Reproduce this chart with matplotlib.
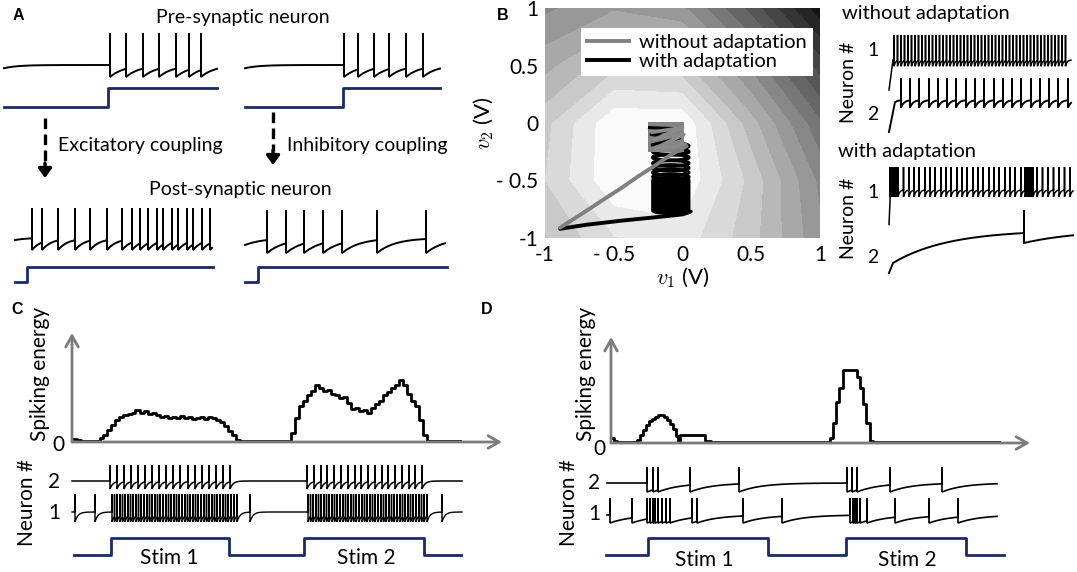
import numpy as np
import matplotlib
matplotlib.use("Agg")
import matplotlib.pyplot as plt
from matplotlib.lines import Line2D
from matplotlib.patches import Ellipse

W, H = 1077, 572
plt.rcParams["font.family"] = ["Lato", "DejaVu Sans"]
plt.rcParams["mathtext.fontset"] = "cm"

NAVY = "#1b2a6b"
AXGRAY = "#7b7b7b"
FS = 13
FS_A = 14
FS_B = 15
FS_CD = 15

# ---- panel A: spike times (time units ~ px from each trace start) ----
PRE_EXC_SPIKES = [106, 122, 139, 155, 172, 185, 197]
PRE_INH_SPIKES = [99, 113, 129, 144, 161, 178]
POST_EXC_SPIKES = [17, 27, 43, 60, 75, 92, 107, 117, 125, 133, 142, 148, 157, 163,
                   172, 178, 187, 195]
POST_INH_SPIKES = [22, 41, 59, 78, 97, 132, 181]
PRE_EXC_STEP = [0, 104, 213]
PRE_INH_STEP = [0, 98, 195]
POST_EXC_STEP = [0, 12, 198]
POST_INH_STEP = [0, 13, 202]
STEP_LEVELS = [0, 1, 1]

# ---- panel B: energy landscape (rows v2 = -1 .. 1, cols v1 = -1 .. 1) ----
GRID_V = [-1, -0.5, 0, 0.5, 1]
ENERGY_GRID = [
    [0.25, 0.12, 0.08, 0.22, 0.42],
    [0.18, 0.00, 0.00, 0.20, 0.45],
    [0.20, 0.00, 0.00, 0.28, 0.55],
    [0.33, 0.20, 0.22, 0.45, 0.72],
    [0.45, 0.38, 0.42, 0.65, 0.92],
]
TRAJ_GRAY_V1 = [-0.89, -0.72, -0.58, -0.45, -0.33, -0.2, -0.09, 0.0, 0.03]
TRAJ_GRAY_V2 = [-0.91, -0.78, -0.67, -0.57, -0.47, -0.37, -0.28, -0.22, -0.2]
TRAJ_BLACK_V1 = [-0.89, -0.7, -0.45, -0.2, 0.0, 0.06]
TRAJ_BLACK_V2 = [-0.92, -0.885, -0.85, -0.82, -0.795, -0.77]
COIL_V2 = [-0.76, -0.74, -0.72, -0.70, -0.68, -0.66, -0.64, -0.62, -0.60, -0.58,
           -0.56, -0.54, -0.52, -0.50, -0.47, -0.43, -0.39, -0.35, -0.30, -0.25, -0.2]
BOX_V1 = [-0.25, 0.01, 0.01, -0.25]
BOX_V2 = [0.01, 0.01, -0.25, -0.25]
ZIG_BLACK_V1 = [-0.24, -0.04, -0.23, -0.02, -0.22]
ZIG_BLACK_V2 = [-0.04, -0.05, -0.1, -0.13, -0.19]
ZIG_GRAY_V1 = [-0.22, 0.0, -0.2, 0.01, -0.2, 0.02]
ZIG_GRAY_V2 = [-0.08, -0.04, -0.14, -0.1, -0.22, -0.19]

N1_FREE_SPIKES = [5, 8.5, 12, 15.5, 19, 22.5, 26, 29.5, 33, 36.5, 40, 43.5, 47, 50.5, 54,
                  57.5, 61, 64.5, 68, 71.5, 75, 78.5, 82, 85.5, 89, 92.5, 96, 99.5, 103,
                  106.5, 110, 113.5, 117, 120.5, 124, 127.5, 131, 134.5, 138, 141.5, 145,
                  148.5, 152, 155.5, 159, 162.5, 166, 169.5, 173, 176.5]
N2_FREE_SPIKES = [12, 21, 30, 40, 49, 58, 67, 77, 86, 95, 105, 114, 123, 132, 142, 151,
                  160, 169, 179]
N1_ADAPT_SPIKES = [1, 2, 3, 4, 5, 6, 7, 9, 14.5, 20, 25, 30, 36, 41, 46, 52, 57, 62, 68,
                   73, 78, 84, 89, 94, 100, 105, 110, 116, 121, 126, 132, 136, 137, 138.5,
                   140, 141, 142.5, 144, 148, 153.5, 159, 164.5, 170, 175.5, 181]
N2_ADAPT_SPIKES = [135]

# ---- panel C ----
C_ENERGY_T = [0, 5, 9, 24, 28, 31, 35, 39, 43, 47, 51, 56, 60, 63, 68, 72, 76, 80, 84, 88,
              92, 96, 100, 104, 108, 112, 116, 120, 124, 128, 132, 136, 140, 144, 148, 152,
              156, 160, 164, 168, 219, 223, 227, 231, 235, 239, 243, 247, 251, 255, 259,
              263, 267, 271, 275, 279, 283, 287, 291, 295, 299, 303, 307, 311, 315, 319,
              323, 327, 331, 335, 339, 343, 347, 351, 355, 359, 388]
C_ENERGY_V = [3, 1.5, 0.5, 1, 3.5, 6, 11, 16, 20, 23, 25, 26, 27, 29, 27, 28, 26, 27, 25,
              23, 24, 22, 23, 22, 24, 22, 23, 21, 22, 23, 21, 23, 22, 20, 18, 15, 10, 6, 2,
              0.5, 8, 22, 33, 38, 43, 47, 52, 50, 47, 48, 44, 43, 40, 41, 36, 30, 31, 28,
              29, 27, 31, 35, 38, 43, 46, 50, 52, 57, 52, 44, 38, 33, 20, 6, 1, 0.5, 0.5]
C_N2_SPIKES = [38, 45, 52, 59, 66, 73, 80, 87, 94, 101, 108, 116, 123, 130, 137, 144, 151,
               158, 235, 242, 249, 255, 262, 269, 276, 283, 289, 296, 303, 310, 316, 323,
               330, 337, 343, 350]
C_N1_SPIKES = [3, 23,
               40, 42.5, 45, 48, 50.5, 53, 56, 58.5, 61, 64, 66.5, 69, 72, 75, 77.5, 80, 83,
               85.5, 88, 91, 94, 96.5, 99, 102, 104.5, 107, 110, 113, 115.5, 118, 121, 123.5,
               126, 129, 132, 134.5, 137, 140, 142.5, 145, 148, 151, 153.5, 156, 159, 162,
               165, 178,
               236, 238.5, 241, 244, 246.5, 249, 252, 254.5, 257, 260, 262.5, 265, 268, 271,
               273.5, 276, 279, 281.5, 284, 287, 290, 292.5, 295, 298, 300.5, 303, 306, 309,
               311.5, 314, 317, 319.5, 322, 325, 328, 330.5, 333, 336, 338.5, 341, 344, 347,
               349.5, 352, 355, 370]
C_STIM_T = [1.5, 39, 157, 232, 352, 389]
STIM_LEVELS = [0, 1, 0, 1, 0, 0]

# ---- panel D ----
D_ENERGY_T = [0, 3, 6, 26, 29, 32, 35, 38, 41, 44, 47, 53, 56, 59, 62, 65, 67, 69, 94, 100,
              117, 143, 219, 222, 225, 228, 232, 246, 249, 252, 255, 259, 262, 322, 350, 388]
D_ENERGY_V = [5, 1.5, 1, 3, 8, 12.5, 17, 21, 23, 25, 26.5, 25, 22, 18, 13, 7, 1.5, 8, 1.5,
              0.7, 1, 0.5, 5, 19, 39, 52, 69, 62, 52, 37, 19, 1.5, 0.5, 1, 0.5, 0.5]
D_N2_SPIKES = [40, 46, 51, 83, 132, 240, 245, 250, 283, 335]
D_N1_SPIKES = [3, 25, 40, 43, 46, 48, 51, 55, 59, 63, 85, 90, 136, 175, 243, 246, 248,
               250, 253, 260, 288, 322, 351]
D_STIM_T = [-1, 41, 161, 239, 359, 397]

fig = plt.figure(figsize=(W / 100, H / 100), dpi=100)


def px_axes(x0, y0, x1, y1):
    ax = fig.add_axes([x0 / W, 1 - y1 / H, (x1 - x0) / W, (y1 - y0) / H])
    ax.set_facecolor("none")
    return ax


def text_px(x, y, s, **kw):
    kw.setdefault("fontsize", FS)
    kw.setdefault("va", "center")
    fig.text(x / W, 1 - y / H, s, **kw)


def panel_label(x, y, s):
    text_px(x, y, s, fontsize=11.5, fontweight="bold", family="Liberation Sans", ha="center")


def track(x0, tmin, tmax, y_top, y_bot):
    ax = px_axes(x0 + tmin, y_top, x0 + tmax, y_bot)
    ax.set_xlim(tmin, tmax)
    ax.set_ylim(0, 1)
    ax.axis("off")
    return ax


def trace_path(spikes, t1, tau, reset, v0=0.0, onset=None):
    ts, vs = [], []
    t_prev, v_prev = 0.0, v0
    if onset is not None:
        ts.append(0.0)
        vs.append(onset[1])
        t_prev = onset[0]
    for s in list(spikes) + [t1]:
        seg = np.linspace(t_prev, s, max(int((s - t_prev) * 2) + 2, 2))
        ts.extend(seg)
        vs.extend(v_prev * np.exp(-(seg - t_prev) / tau))
        if s >= t1:
            break
        ts += [s, s]
        vs += [1.0, reset]
        t_prev, v_prev = s, reset
    return ts, vs


def neuron(x0, t1, y_peak, y_base, spikes, tau, reset, v0=0.0, onset=None, lw=1.4):
    ax = track(x0, 0, t1, y_peak, y_base)
    ts, vs = trace_path(spikes, t1, tau, reset, v0, onset)
    ax.plot(ts, vs, color="k", lw=lw, clip_on=False, solid_joinstyle="miter")
    return ax


def stim(x0, times, levels, y_hi, y_lo, lw=2.0):
    ax = track(x0, times[0], times[-1], y_hi, y_lo)
    ax.step(times, levels, where="post", color=NAVY, lw=lw, clip_on=False)
    return ax


# ================= panel A =================
panel_label(18, 15, "A")
text_px(243, 17, "Pre-synaptic neuron", ha="center", fontsize=FS_A)
text_px(240, 190, "Post-synaptic neuron", ha="center", fontsize=FS_A)
text_px(58, 145, "Excitatory coupling", ha="left", fontsize=FS_A)
text_px(287, 145, "Inhibitory coupling", ha="left", fontsize=FS_A)

neuron(4, 213, 33, 65, PRE_EXC_SPIKES, tau=14, reset=-0.375, v0=-0.1)
stim(4, PRE_EXC_STEP, STEP_LEVELS, 88, 107)
neuron(245, 195, 33, 65, PRE_INH_SPIKES, tau=14, reset=-0.375, v0=-0.1)
stim(245, PRE_INH_STEP, STEP_LEVELS, 88, 107)
neuron(15, 197, 208, 238, POST_EXC_SPIKES, tau=10, reset=-0.4, v0=-0.07)
stim(15, POST_EXC_STEP, STEP_LEVELS, 267, 282)
neuron(245, 200, 210, 238, POST_INH_SPIKES, tau=18, reset=-0.54, v0=-0.25)
stim(245, POST_INH_STEP, STEP_LEVELS, 267, 282)

# ================= panel B =================
panel_label(503, 15, "B")
axb = px_axes(545, 8, 820, 238)
axb.contourf(GRID_V, GRID_V, np.array(ENERGY_GRID), levels=np.linspace(-0.01, 0.95, 16),
             cmap="gray_r", vmin=0, vmax=1.0)
axb.plot(TRAJ_BLACK_V1, TRAJ_BLACK_V2, color="k", lw=2.8, solid_capstyle="round")
for v2 in COIL_V2:
    axb.add_patch(Ellipse((-0.085, v2), 0.26, 0.05, fill=False, ec="k", lw=2.6))
axb.fill(BOX_V1, BOX_V2, color="#858585", lw=0)
axb.plot(ZIG_BLACK_V1, ZIG_BLACK_V2, color="k", lw=2.2)
axb.plot(ZIG_GRAY_V1, ZIG_GRAY_V2, color="#8a8a8a", lw=2.6)
axb.plot(TRAJ_GRAY_V1, TRAJ_GRAY_V2, color="#808080", lw=2.8, solid_capstyle="round")
axb.set_xlim(-1, 1)
axb.set_ylim(-1, 1)
axb.set_xticks([-1, -0.5, 0, 0.5, 1])
axb.set_xticklabels(["-1", "- 0.5", "0", "0.5", "1"])
axb.set_yticks([-1, -0.5, 0, 0.5, 1])
axb.set_yticklabels(["-1", "- 0.5", "0", "0.5", "1"])
axb.tick_params(length=0, labelsize=FS_B, pad=5)
for sp in axb.spines.values():
    sp.set_visible(False)
axb.set_xlabel(r"$v_1$ (V)", fontsize=FS_B + 1, labelpad=0)
axb.set_ylabel(r"$v_2$ (V)", fontsize=FS_B + 1, labelpad=0)
handles = [Line2D([], [], color="#808080", lw=2.8), Line2D([], [], color="k", lw=2.8)]
axb.legend(handles, ["without adaptation", "with adaptation"], loc="upper right",
           bbox_to_anchor=(0.975, 0.913), borderaxespad=0, fontsize=14.5, frameon=True,
           fancybox=False, edgecolor="none", framealpha=1, handlelength=2.1,
           borderpad=0.3, labelspacing=0.1, handletextpad=0.5)

text_px(842, 13, "without adaptation", ha="left", fontsize=14.5)
text_px(838, 152, "with adaptation", ha="left", fontsize=14.5)
text_px(849, 82, "Neuron #", ha="center", rotation=90, fontsize=14)
text_px(849, 218, "Neuron #", ha="center", rotation=90, fontsize=14)
for y, s in [(50, "1"), (115, "2"), (193, "1"), (257, "2")]:
    text_px(873, y, s, ha="center", fontsize=14)

neuron(889, 182, 35, 60, N1_FREE_SPIKES, tau=1.5, reset=-0.25, onset=(4, -1.2), lw=1.1)
neuron(889, 182, 78, 100, N2_FREE_SPIKES, tau=3, reset=-0.35, v0=-0.1, onset=(6, -1.45))
neuron(889, 184, 167, 190, N1_ADAPT_SPIKES, tau=1.5, reset=-0.3, onset=(1.5, -1.5), lw=1.1)
neuron(889, 184, 210, 230, N2_ADAPT_SPIKES, tau=55, reset=-0.65, v0=-1.65, onset=(4, -2.15))


# ================= panels C and D =================
def energy_axes(x0, x1, y_top, y_base, tmax, ts, vs):
    ax = px_axes(x0, y_top, x1, y_base)
    ax.set_xlim(0, tmax)
    ax.set_ylim(0, 100)
    ax.axis("off")
    ax.step(ts, vs, where="post", color="k", lw=2.0, clip_on=False)
    arrow = dict(arrowstyle="->,head_length=0.8,head_width=0.45", color=AXGRAY, lw=2,
                 shrinkA=0, shrinkB=0)
    ax.annotate("", xy=(0, 1), xytext=(0, 0), xycoords="axes fraction", arrowprops=arrow)
    ax.annotate("", xy=(1, 0), xytext=(0, 0), xycoords="axes fraction", arrowprops=arrow)
    return ax


panel_label(17, 310, "C")
energy_axes(72, 502, 333, 442, 430, C_ENERGY_T, C_ENERGY_V)
text_px(40, 374, "Spiking energy", ha="center", rotation=90, fontsize=FS_CD)
text_px(58, 445, "0", ha="center", fontsize=FS_CD)
text_px(27, 503, "Neuron #", ha="center", rotation=90, fontsize=FS_CD)
text_px(54, 482, "2", ha="center", fontsize=FS_CD)
text_px(54, 513, "1", ha="center", fontsize=FS_CD)
neuron(72, 390, 465, 481, C_N2_SPIKES, tau=3, reset=-0.5, lw=1.1)
neuron(72, 390, 494, 512, C_N1_SPIKES, tau=3, reset=-0.55, lw=1.0)
stim(72, C_STIM_T, STIM_LEVELS, 538, 555)
text_px(169, 558, "Stim 1", ha="center", fontsize=FS_CD)
text_px(366, 558, "Stim 2", ha="center", fontsize=FS_CD)

panel_label(487, 310, "D")
energy_axes(611, 1030, 337, 443, 419, D_ENERGY_T, D_ENERGY_V)
text_px(586, 374, "Spiking energy", ha="center", rotation=90, fontsize=FS_CD)
text_px(599, 449, "0", ha="center", fontsize=FS_CD)
text_px(569, 503, "Neuron #", ha="center", rotation=90, fontsize=FS_CD)
text_px(594, 483, "2", ha="center", fontsize=FS_CD)
text_px(594, 514, "1", ha="center", fontsize=FS_CD)
neuron(607, 390, 467, 483, D_N2_SPIKES, tau=22, reset=-0.56, lw=1.2)
neuron(607, 390, 498, 515, D_N1_SPIKES, tau=22, reset=-0.47, lw=1.2)
stim(607, D_STIM_T, STIM_LEVELS, 538, 555)
text_px(704, 560, "Stim 1", ha="center", fontsize=FS_CD)
text_px(907, 560, "Stim 2", ha="center", fontsize=FS_CD)

# ---- dashed coupling arrows (overlay in pixel coordinates) ----
ov = px_axes(0, 0, W, H)
ov.set_xlim(0, W)
ov.set_ylim(H, 0)
ov.axis("off")
head = dict(arrowstyle="-|>,head_length=0.55,head_width=0.4", color="k", lw=2.4,
            shrinkA=0, shrinkB=0)
for x, y0, y1 in [(45, 118, 178), (273, 112, 165)]:
    ov.plot([x, x], [y0, y1 - 14], color="k", lw=2.4, ls=(0, (3.2, 1.6)))
    ov.annotate("", xy=(x, y1), xytext=(x, y1 - 15), arrowprops=head)

fig.savefig("out.png", dpi=100, facecolor="white")
